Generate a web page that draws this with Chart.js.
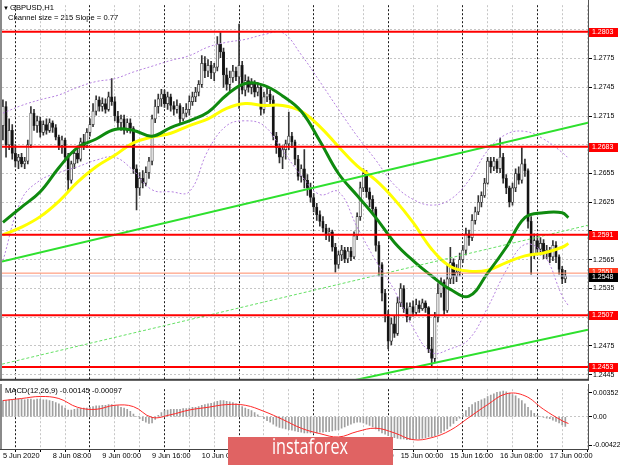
<!DOCTYPE html>
<html>
<head>
<meta charset="utf-8">
<script src="https://cdn.jsdelivr.net/npm/chart.js@4.4.0/dist/chart.umd.min.js"></script>
<style>
html, body { margin: 0; padding: 0; background: #fff; }
#wrap { position: relative; width: 620px; height: 465px; overflow: hidden; background: #fff; }
#wrap canvas { position: absolute; left: 0; }
</style>
</head>
<body>
<div id="wrap">
  <canvas id="priceChart" width="620" height="384" style="top:0"></canvas>
  <canvas id="macdChart" width="620" height="81" style="top:384px"></canvas>
</div>
<script>
// GBPUSD H1, 5 Jun 16:00 .. 17 Jun 05:00 (one entry per hourly bar)
const opens = [
  1.2705,1.2725,1.2685,1.2700,1.2676,1.2668,1.2672,1.2665,1.2668,1.2685,
  1.2718,1.2705,1.2710,1.2698,1.2706,1.2700,1.2708,1.2703,1.2693,1.2684,
  1.2690,1.2672,1.2648,1.2665,1.2676,1.2670,1.2688,1.2684,1.2698,1.2706,
  1.2720,1.2732,1.2725,1.2728,1.2722,1.2735,1.2730,1.2715,1.2708,1.2712,
  1.2700,1.2708,1.2702,1.2660,1.2640,1.2650,1.2645,1.2656,1.2668,1.2712,
  1.2725,1.2733,1.2738,1.2728,1.2735,1.2726,1.2722,1.2726,1.2712,1.2718,
  1.2722,1.2730,1.2735,1.2740,1.2748,1.2770,1.2762,1.2768,1.2760,1.2766,
  1.2790,1.2782,1.2758,1.2748,1.2755,1.2762,1.2756,1.2768,1.2742,1.2752,
  1.2745,1.2748,1.2740,1.2745,1.2722,1.2735,1.2738,1.2732,1.2694,1.2682,
  1.2672,1.2680,1.2686,1.2694,1.2688,1.2670,1.2652,1.2660,1.2648,1.2640,
  1.2630,1.2620,1.2612,1.2605,1.2598,1.2592,1.2594,1.2578,1.2560,1.2570,
  1.2575,1.2566,1.2574,1.2568,1.2590,1.2610,1.2640,1.2655,1.2636,1.2628,
  1.2618,1.2580,1.2560,1.2530,1.2508,1.2480,1.2498,1.2488,1.2520,1.2535,
  1.2514,1.2505,1.2516,1.2510,1.2518,1.2514,1.2520,1.2515,1.2472,1.2462,
  1.2505,1.2530,1.2542,1.2512,1.2545,1.2562,1.2548,1.2552,1.2565,1.2575,
  1.2592,1.2588,1.2606,1.2615,1.2625,1.2632,1.2645,1.2668,1.2662,1.2668,
  1.2660,1.2672,1.2650,1.2640,1.2625,1.2640,1.2655,1.2648,1.2665,1.2658,
  1.2605,1.2570,1.2585,1.2576,1.2582,1.2572,1.2575,1.2568,1.2580,1.2568,
  1.2555,1.2545
];
const highs = [
  1.2732,1.2730,1.2712,1.2706,1.2685,1.2675,1.2676,1.2672,1.2690,1.2725,
  1.2722,1.2715,1.2714,1.2710,1.2712,1.2712,1.2710,1.2706,1.2695,1.2694,
  1.2692,1.2676,1.2668,1.2680,1.2684,1.2692,1.2696,1.2702,1.2712,1.2728,
  1.2736,1.2735,1.2734,1.2733,1.2740,1.2754,1.2735,1.2720,1.2716,1.2716,
  1.2712,1.2712,1.2704,1.2664,1.2656,1.2658,1.2662,1.2672,1.2716,1.2732,
  1.2738,1.2743,1.2742,1.2740,1.2738,1.2730,1.2732,1.2728,1.2724,1.2728,
  1.2736,1.2740,1.2745,1.2752,1.2778,1.2777,1.2774,1.2772,1.2770,1.2798,
  1.2802,1.2786,1.2765,1.2762,1.2768,1.2766,1.2811,1.2772,1.2758,1.2756,
  1.2754,1.2752,1.2750,1.2748,1.2740,1.2744,1.2742,1.2736,1.2698,1.2686,
  1.2684,1.2690,1.2719,1.2698,1.2690,1.2674,1.2664,1.2680,1.2654,1.2645,
  1.2634,1.2624,1.2616,1.2610,1.2602,1.2598,1.2596,1.2582,1.2574,1.2580,
  1.2578,1.2578,1.2578,1.2594,1.2614,1.2646,1.2660,1.2658,1.2640,1.2632,
  1.2620,1.2584,1.2562,1.2534,1.2512,1.2504,1.2506,1.2526,1.2540,1.2538,
  1.2520,1.2520,1.2522,1.2524,1.2522,1.2524,1.2522,1.2516,1.2484,1.2510,
  1.2540,1.2546,1.2544,1.2560,1.2578,1.2566,1.2560,1.2572,1.2580,1.2598,
  1.2596,1.2612,1.2620,1.2632,1.2636,1.2650,1.2672,1.2672,1.2672,1.2670,
  1.2692,1.2676,1.2654,1.2642,1.2645,1.2660,1.2662,1.2682,1.2670,1.2660,
  1.2610,1.2592,1.2592,1.2588,1.2586,1.2580,1.2578,1.2585,1.2584,1.2570,
  1.2558,1.2554
];
const lows = [
  1.2690,1.2672,1.2680,1.2670,1.2662,1.2660,1.2662,1.2660,1.2665,1.2682,
  1.2700,1.2698,1.2693,1.2695,1.2696,1.2698,1.2698,1.2690,1.2680,1.2676,
  1.2668,1.2635,1.2645,1.2660,1.2666,1.2668,1.2680,1.2682,1.2694,1.2704,
  1.2716,1.2720,1.2720,1.2718,1.2720,1.2726,1.2710,1.2702,1.2700,1.2696,
  1.2698,1.2697,1.2655,1.2617,1.2632,1.2640,1.2642,1.2650,1.2664,1.2708,
  1.2718,1.2725,1.2724,1.2722,1.2720,1.2716,1.2718,1.2708,1.2710,1.2714,
  1.2716,1.2726,1.2730,1.2736,1.2745,1.2755,1.2756,1.2754,1.2752,1.2762,
  1.2776,1.2745,1.2742,1.2740,1.2750,1.2752,1.2723,1.2738,1.2736,1.2740,
  1.2738,1.2735,1.2736,1.2716,1.2718,1.2730,1.2728,1.2690,1.2676,1.2666,
  1.2660,1.2670,1.2680,1.2682,1.2664,1.2648,1.2646,1.2640,1.2632,1.2625,
  1.2615,1.2606,1.2600,1.2594,1.2586,1.2584,1.2574,1.2552,1.2556,1.2564,
  1.2562,1.2562,1.2564,1.2566,1.2586,1.2606,1.2636,1.2630,1.2620,1.2614,
  1.2574,1.2548,1.2522,1.2500,1.2472,1.2476,1.2484,1.2486,1.2516,1.2510,
  1.2500,1.2502,1.2506,1.2508,1.2510,1.2512,1.2510,1.2468,1.2453,1.2458,
  1.2500,1.2526,1.2508,1.2510,1.2540,1.2540,1.2542,1.2548,1.2562,1.2570,
  1.2580,1.2585,1.2602,1.2612,1.2620,1.2630,1.2644,1.2656,1.2658,1.2656,
  1.2656,1.2645,1.2634,1.2620,1.2622,1.2636,1.2644,1.2645,1.2652,1.2598,
  1.2550,1.2566,1.2570,1.2570,1.2566,1.2566,1.2562,1.2564,1.2562,1.2550,
  1.2540,1.2541
];
const closes = [
  1.2725,1.2685,1.2700,1.2676,1.2668,1.2672,1.2665,1.2668,1.2685,1.2718,
  1.2705,1.2710,1.2698,1.2706,1.2700,1.2708,1.2703,1.2693,1.2684,1.2690,
  1.2672,1.2648,1.2665,1.2676,1.2670,1.2688,1.2684,1.2698,1.2706,1.2720,
  1.2732,1.2725,1.2728,1.2722,1.2735,1.2730,1.2715,1.2708,1.2712,1.2700,
  1.2708,1.2702,1.2660,1.2640,1.2650,1.2645,1.2656,1.2668,1.2712,1.2725,
  1.2733,1.2738,1.2728,1.2735,1.2726,1.2722,1.2726,1.2712,1.2718,1.2722,
  1.2730,1.2735,1.2740,1.2748,1.2770,1.2762,1.2768,1.2760,1.2766,1.2790,
  1.2782,1.2758,1.2748,1.2755,1.2762,1.2756,1.2768,1.2742,1.2752,1.2745,
  1.2748,1.2740,1.2745,1.2722,1.2735,1.2738,1.2732,1.2694,1.2682,1.2672,
  1.2680,1.2686,1.2694,1.2688,1.2670,1.2652,1.2660,1.2648,1.2640,1.2630,
  1.2620,1.2612,1.2605,1.2598,1.2592,1.2594,1.2578,1.2560,1.2570,1.2575,
  1.2566,1.2574,1.2568,1.2590,1.2610,1.2640,1.2655,1.2636,1.2628,1.2618,
  1.2580,1.2560,1.2530,1.2508,1.2480,1.2498,1.2488,1.2520,1.2535,1.2514,
  1.2505,1.2516,1.2510,1.2518,1.2514,1.2520,1.2515,1.2472,1.2462,1.2505,
  1.2530,1.2542,1.2512,1.2545,1.2562,1.2548,1.2552,1.2565,1.2575,1.2592,
  1.2588,1.2606,1.2615,1.2625,1.2632,1.2645,1.2668,1.2662,1.2668,1.2660,
  1.2672,1.2650,1.2640,1.2625,1.2640,1.2655,1.2648,1.2665,1.2658,1.2605,
  1.2570,1.2585,1.2576,1.2582,1.2572,1.2575,1.2568,1.2580,1.2568,1.2555,
  1.2545,1.2548
];

// indicator lines read at every 6th bar
const lineBars = [0,6,12,18,24,30,36,42,48,54,60,66,72,78,84,90,96,102,108,114,120,126,132,138,144,150,156,162,168,174,180,182];
const greenMA = [1.2604,1.2620,1.2636,1.2661,1.2682,1.2691,1.2701,1.2700,1.2694,1.2703,1.2710,1.2719,1.2737,1.2749,1.2747,1.2736,
  1.2720,1.2689,1.2655,1.2632,1.2609,1.2583,1.2564,1.2548,1.2534,1.2527,1.2551,1.2578,1.2609,1.2614,1.2614,1.2609];
const yellowMA = [1.2591,1.2599,1.2610,1.2626,1.2646,1.2662,1.2674,1.2687,1.2693,1.2697,1.2705,1.2712,1.2723,1.2728,1.2726,1.2726,
  1.2720,1.2704,1.2683,1.2663,1.2648,1.2628,1.2604,1.2576,1.2558,1.2553,1.2554,1.2562,1.2569,1.2572,1.2578,1.2582];
const upperBand = [1.2718,1.2726,1.2732,1.2737,1.2745,1.2751,1.2754,1.2761,1.2767,1.2773,1.2778,1.2787,1.2792,1.2795,1.2800,1.2802,
  1.2779,1.2751,1.2722,1.2694,1.2669,1.2643,1.2628,1.2622,1.2628,1.2648,1.2679,1.2696,1.2699,1.2691,1.2677,1.2671];
const lowerBand = [1.2564,1.2628,1.2648,1.2656,1.2662,1.2669,1.2672,1.2658,1.2638,1.2636,1.2636,1.2679,1.2705,1.2710,1.2705,1.2679,
  1.2653,1.2633,1.2636,1.2599,1.2564,1.2533,1.2494,1.2468,1.2472,1.2482,1.2515,1.2554,1.2581,1.2571,1.2527,1.2517];

// levels and channel
const redLevels = [1.2803, 1.2683, 1.2591, 1.2507, 1.2453];
const askPrice = 1.2551;
const bidPrice = 1.2548;
const channelUpper = [[-0.3, 1.2563], [188.3, 1.2708]];
const channelMid = [[-0.3, 1.2456], [188.3, 1.2601]];
const channelLower = [[100, 1.2430], [188.3, 1.2492]];

const priceGrid = [1.2445,1.2475,1.2505,1.2535,1.2565,1.2595,1.2625,1.2655,1.2685,1.2715,1.2745,1.2775,1.2805];
const priceLabels = [1.2445,1.2475,1.2535,1.2565,1.2625,1.2655,1.2715,1.2745,1.2775];

// MACD(12,26,9)
const macdHist = [
  0.0024,0.0024,0.0025,0.0025,0.0025,0.0026,0.0026,0.0025,0.0026,0.0026,
  0.0025,0.0026,0.0026,0.0025,0.0025,0.0024,0.0023,0.0021,0.0019,0.0016,
  0.0013,0.0010,0.0010,0.0011,0.0012,0.0012,0.0013,0.0013,0.0014,0.0015,
  0.0016,0.0016,0.0017,0.0017,0.0018,0.0018,0.0017,0.0016,0.0014,0.0013,
  0.0011,0.0008,0.0004,0.0000,-0.0003,-0.0006,-0.0008,-0.0010,-0.0009,-0.0004,
  0.0002,0.0006,0.0009,0.0010,0.0011,0.0011,0.0011,0.0011,0.0012,0.0012,
  0.0013,0.0014,0.0014,0.0015,0.0017,0.0018,0.0019,0.0020,0.0021,0.0023,
  0.0024,0.0024,0.0023,0.0022,0.0021,0.0019,0.0017,0.0015,0.0013,0.0011,
  0.0009,0.0006,0.0003,0.0000,-0.0003,-0.0006,-0.0008,-0.0011,-0.0014,-0.0016,
  -0.0017,-0.0018,-0.0019,-0.0020,-0.0021,-0.0022,-0.0023,-0.0024,-0.0024,-0.0024,
  -0.0024,-0.0024,-0.0023,-0.0023,-0.0022,-0.0022,-0.0021,-0.0020,-0.0019,-0.0017,
  -0.0015,-0.0013,-0.0011,-0.0009,-0.0008,-0.0008,-0.0009,-0.0011,-0.0013,-0.0015,
  -0.0018,-0.0021,-0.0024,-0.0026,-0.0028,-0.0030,-0.0031,-0.0032,-0.0033,-0.0033,
  -0.0034,-0.0034,-0.0034,-0.0033,-0.0033,-0.0032,-0.0031,-0.0030,-0.0030,-0.0028,
  -0.0026,-0.0024,-0.0021,-0.0018,-0.0014,-0.0010,-0.0006,-0.0002,0.0004,0.0009,
  0.0014,0.0018,0.0021,0.0023,0.0025,0.0027,0.0030,0.0032,0.0034,0.0036,
  0.0037,0.0038,0.0037,0.0035,0.0033,0.0031,0.0027,0.0024,0.0019,0.0014,
  0.0009,0.0005,0.0002,0.0000,-0.0001,-0.0002,-0.0003,-0.0005,-0.0007,-0.0009,
  -0.0012,-0.00145
];
const macdSignal = [0.0024,0.0027,0.0030,0.0027,0.0014,0.0011,0.0017,0.0015,-0.0001,0.0003,0.0010,0.0014,0.0018,0.0017,0.0008,-0.0004,
  -0.0017,-0.0025,-0.0030,-0.0022,-0.0017,-0.0024,-0.0034,-0.0031,-0.0020,-0.0001,0.0018,0.0034,0.0031,0.0011,-0.0006,-0.0010];
const macdTicks = [-0.00422, 0, 0.00352];

// time axis: grid every 8 bars, label every 16 bars
const timeLabels = ['5 Jun 2020','8 Jun 08:00','9 Jun 00:00','9 Jun 16:00','10 Jun 08:00','11 Jun 00:00',
  '11 Jun 16:00','12 Jun 08:00','15 Jun 00:00','15 Jun 16:00','16 Jun 08:00','17 Jun 00:00'];

const FONT = '"Liberation Sans", Arial, sans-serif';
const X_MIN = -0.3, X_MAX = 188.3;

function pts(xs, ys) { return xs.map((x, k) => ({x: x, y: ys[k]})); }
function seg(p) { return p.map(q => ({x: q[0], y: q[1]})); }
const xGrid = [];
for (let v = 0; v <= 184; v += 8) xGrid.push(v);
// day separators are the dark dotted lines
const gridColor = c => (c.tick && (c.tick.value - 8) % 24 === 0) ? '#1a1a1a' : '#c6c6c6';

function priceBox(ctx, y, text, bg, fg) {
  ctx.fillStyle = bg;
  ctx.fillRect(589, Math.round(y) - 4, 29, 9);
  ctx.fillStyle = fg;
  ctx.font = '7px ' + FONT;
  ctx.textBaseline = 'middle';
  ctx.textAlign = 'left';
  ctx.fillText(text, 592, Math.round(y) + 0.5);
}

const priceDecor = {
  id: 'priceDecor',
  afterDraw(chart) {
    const ctx = chart.ctx, a = chart.chartArea, ys = chart.scales.y;
    ctx.save();
    // frame
    ctx.fillStyle = '#8a8a8a';
    ctx.fillRect(0, 0, 2, a.bottom + 2);
    ctx.fillStyle = '#555';
    ctx.fillRect(a.right, 0, 1, a.bottom + 1);
    ctx.fillStyle = '#444';
    ctx.fillRect(0, a.bottom, a.right + 1, 2);
    // price labels
    redLevels.forEach(v => priceBox(ctx, ys.getPixelForValue(v), v.toFixed(4), '#ff0000', '#fff'));
    priceBox(ctx, ys.getPixelForValue(askPrice) - 1, askPrice.toFixed(4), '#ff3b1f', '#fff');
    priceBox(ctx, ys.getPixelForValue(bidPrice) + 1, bidPrice.toFixed(4), '#000', '#fff');
    ctx.fillStyle = '#000';
    ctx.textAlign = 'left';
    ctx.textBaseline = 'middle';
    ctx.font = '6px ' + FONT;
    ctx.fillText('\u25BC', 3, 8);
    ctx.font = '7.6px ' + FONT;
    ctx.fillText('GBPUSD,H1', 10, 8);
    ctx.fillText('Channel size = 215 Slope = 0.77', 8, 17.5);
    ctx.restore();
  }
};

const macdDecor = {
  id: 'macdDecor',
  afterDraw(chart) {
    const ctx = chart.ctx, a = chart.chartArea;
    ctx.save();
    ctx.fillStyle = '#8a8a8a';
    ctx.fillRect(0, 0, 2, a.bottom);
    ctx.fillStyle = '#555';
    ctx.fillRect(a.right, 0, 1, a.bottom + 1);
    ctx.fillStyle = '#444';
    ctx.fillRect(0, a.bottom, a.right + 1, 1);
    ctx.fillStyle = '#000';
    ctx.font = '7.6px ' + FONT;
    ctx.textBaseline = 'middle';
    ctx.fillText('MACD(12,26,9) -0.00145 -0.00097', 5, 7);
    // watermark
    ctx.fillStyle = '#e06363';
    ctx.fillRect(228, 53, 165, 28);
    ctx.fillStyle = '#fff';
    ctx.font = '22px "Open Sans", ' + FONT;
    ctx.textBaseline = 'alphabetic';
    const w = ctx.measureText('instaforex').width;
    ctx.translate(272, 69.5);
    ctx.scale(76 / w, 1);
    ctx.fillText('instaforex', 0, 0);
    ctx.restore();
  }
};

const lineStyle = { type: 'line', pointRadius: 0, fill: false, borderCapStyle: 'butt' };

const datasets = [];
// horizontal levels on top
redLevels.forEach(v => datasets.push(Object.assign({}, lineStyle, {
  data: [{x: X_MIN, y: v}, {x: X_MAX, y: v}], borderColor: '#ff0000', borderWidth: 2, order: 1
})));
datasets.push(Object.assign({}, lineStyle, { data: [{x: X_MIN, y: askPrice}, {x: X_MAX, y: askPrice}], borderColor: '#ff8a66', borderWidth: 1, order: 1 }));
datasets.push(Object.assign({}, lineStyle, { data: [{x: X_MIN, y: bidPrice}, {x: X_MAX, y: bidPrice}], borderColor: '#c9c9e6', borderWidth: 1, order: 1 }));
// channel
datasets.push(Object.assign({}, lineStyle, { data: seg(channelUpper), borderColor: '#2ee02e', borderWidth: 2, order: 2 }));
datasets.push(Object.assign({}, lineStyle, { data: seg(channelLower), borderColor: '#2ee02e', borderWidth: 2, order: 2 }));
datasets.push(Object.assign({}, lineStyle, { data: seg(channelMid), borderColor: '#66e066', borderWidth: 1, borderDash: [3, 2], order: 2 }));
// moving averages and bands
datasets.push(Object.assign({}, lineStyle, { data: pts(lineBars, greenMA), borderColor: '#0f8a0f', borderWidth: 3, tension: 0.4, order: 3 }));
datasets.push(Object.assign({}, lineStyle, { data: pts(lineBars, yellowMA), borderColor: '#ffff00', borderWidth: 3, tension: 0.4, order: 4 }));
datasets.push(Object.assign({}, lineStyle, { data: pts(lineBars, upperBand), borderColor: '#b683e0', borderWidth: 1, borderDash: [2, 2], tension: 0.4, order: 5 }));
datasets.push(Object.assign({}, lineStyle, { data: pts(lineBars, lowerBand), borderColor: '#b683e0', borderWidth: 1, borderDash: [2, 2], tension: 0.4, order: 5 }));
// candles: wicks then bodies
datasets.push({ type: 'bar', grouped: false, order: 9, barThickness: 1, backgroundColor: '#333',
  data: highs.map((h, i) => ({x: i, y: [lows[i], h]})) });
datasets.push({ type: 'bar', grouped: false, order: 8, barThickness: 2.4, borderWidth: 0.7, borderSkipped: false,
  borderColor: '#222',
  backgroundColor: closes.map((c, i) => c >= opens[i] ? '#f4f4f4' : '#111'),
  data: closes.map((c, i) => ({x: i, y: [opens[i], c]})) });

new Chart(document.getElementById('priceChart'), {
  type: 'bar',
  data: { datasets: datasets },
  options: {
    responsive: false, animation: false, events: [],
    layout: { padding: { left: 2, top: 2, right: 0, bottom: 2 } },
    plugins: { legend: { display: false }, tooltip: { enabled: false } },
    scales: {
      x: {
        type: 'linear', offset: false, min: X_MIN, max: X_MAX,
        afterBuildTicks: s => { s.ticks = xGrid.map(v => ({value: v})); },
        afterFit: s => { s.height = 0; },
        ticks: { display: false },
        grid: { drawTicks: false, color: gridColor, lineWidth: 1 },
        border: { display: false, dash: [2, 2] }
      },
      y: {
        position: 'right', min: 1.24407, max: 1.28307,
        grid: { color: '#c6c6c6', lineWidth: 1, drawTicks: true, tickLength: 4, tickColor: '#000' },
        border: { display: false, dash: [2, 2] },
        afterFit: s => { s.width = 32; },
        afterBuildTicks: s => { s.ticks = priceGrid.map(v => ({value: v})); },
        ticks: {
          padding: 1, color: '#000', font: { family: FONT, size: 7 },
          callback: v => priceLabels.some(p => Math.abs(p - v) < 1e-6) ? v.toFixed(4) : ''
        }
      }
    }
  },
  plugins: [priceDecor]
});

new Chart(document.getElementById('macdChart'), {
  type: 'bar',
  data: {
    datasets: [
      Object.assign({}, lineStyle, { data: pts(lineBars, macdSignal), borderColor: '#ff2a2a', borderWidth: 1, tension: 0.4, order: 1 }),
      { type: 'bar', order: 2, barThickness: 1, backgroundColor: '#a0a0a0', data: macdHist.map((v, i) => ({x: i, y: v})) }
    ]
  },
  options: {
    responsive: false, animation: false, events: [],
    layout: { padding: { left: 2, top: 2, right: 0, bottom: 0 } },
    plugins: { legend: { display: false }, tooltip: { enabled: false } },
    scales: {
      x: {
        type: 'linear', offset: false, min: X_MIN, max: X_MAX,
        grid: { color: gridColor, lineWidth: 1, drawTicks: true, tickLength: 3, tickColor: '#000' },
        border: { display: false, dash: [2, 2] },
        afterFit: s => { s.height = 16; },
        afterBuildTicks: s => { s.ticks = xGrid.map(v => ({value: v})); },
        ticks: {
          autoSkip: false, maxRotation: 0, minRotation: 0, align: 'start', padding: 0,
          color: '#000', font: { family: FONT, size: 7.4 },
          callback: v => (v % 16 === 0 && v / 16 < timeLabels.length) ? timeLabels[v / 16] : ''
        }
      },
      y: {
        position: 'right', min: -0.00478, max: 0.00408,
        grid: { color: c => (c.tick && c.tick.value === 0) ? '#c6c6c6' : 'rgba(0,0,0,0)', drawTicks: true, tickLength: 4, tickColor: '#000' },
        border: { display: false, dash: [2, 2] },
        afterFit: s => { s.width = 32; },
        afterBuildTicks: s => { s.ticks = macdTicks.map(v => ({value: v})); },
        ticks: {
          padding: 1, color: '#000', font: { family: FONT, size: 7 },
          callback: v => v === 0 ? '0.00' : v.toFixed(5)
        }
      }
    }
  },
  plugins: [macdDecor]
});
</script>
</body>
</html>
